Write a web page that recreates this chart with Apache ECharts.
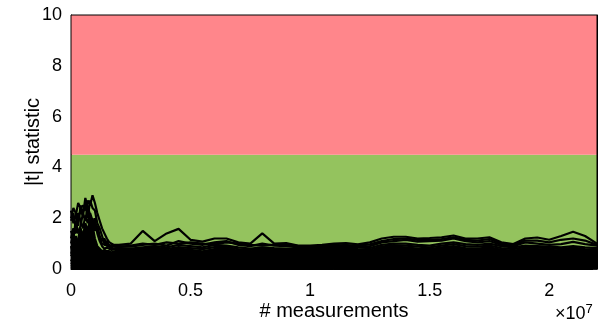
<!DOCTYPE html>
<html lang="en">
<head>
    <meta charset="UTF-8">
    <title>t statistic</title>
    <script type="text/javascript" src="https://cdn.jsdelivr.net/npm/echarts@6/dist/echarts.min.js"></script>
</head>
<body style="margin:0;background:#fff;">
    <div id="main" style="width: 610px;height:326px;"></div>
    <script type="text/javascript">
    // x positions in units of 1e7 measurements
    let xs = [0, 0.01, 0.02, 0.03, 0.04, 0.05, 0.06, 0.07, 0.08, 0.09, 0.1, 0.11, 0.12, 0.13, 0.14, 0.15, 0.16, 0.17, 0.18,
        0.2, 0.25, 0.3, 0.35, 0.4, 0.45, 0.5, 0.55, 0.6, 0.65, 0.7, 0.75, 0.8, 0.85, 0.9, 0.95, 1.0, 1.05, 1.1, 1.15,
        1.2, 1.25, 1.3, 1.35, 1.4, 1.45, 1.5, 1.55, 1.6, 1.65, 1.7, 1.75, 1.8, 1.85, 1.9, 1.95, 2.0, 2.05, 2.1, 2.15, 2.2];

    // |t| traces (early part, then the long tail)
    let t1 = [2.3, 1.8, 2.1, 2.6, 2.4, 2.5, 2.3, 2.7, 2.5, 2.9, 2.6, 2.2, 1.9, 1.6, 1.4, 1.2, 1.05, 1.0, 0.95,
        0.95, 1.0, 1.5, 1.1, 1.4, 1.58, 1.15, 1.08, 1.2, 1.2, 1.05, 1.0, 1.4, 1.0, 1.02, 0.92, 0.92, 0.95, 1.0, 1.02,
        0.97, 1.05, 1.2, 1.27, 1.27, 1.2, 1.22, 1.25, 1.32, 1.2, 1.2, 1.25, 1.05, 0.98, 1.2, 1.24, 1.15, 1.3, 1.47, 1.3, 1.0];
    let t2 = [1.9, 2.2, 1.6, 2.0, 2.3, 2.1, 2.8, 2.4, 1.8, 2.0, 1.5, 1.7, 1.3, 1.1, 1.2, 0.9, 0.95, 0.85, 0.9,
        0.9, 0.88, 0.95, 1.0, 0.92, 1.1, 1.0, 0.95, 1.05, 1.1, 0.95, 0.9, 1.0, 0.92, 0.9, 0.85, 0.88, 0.85, 0.9, 0.95,
        0.88, 0.9, 1.05, 1.1, 1.15, 1.08, 1.1, 1.12, 1.2, 1.1, 1.05, 1.1, 0.95, 0.9, 1.05, 1.0, 0.95, 0.98, 1.07, 0.98, 0.92];
    let t3 = [1.5, 1.2, 1.9, 1.4, 1.7, 2.2, 1.9, 2.5, 2.1, 1.6, 2.0, 1.4, 1.1, 0.9, 0.8, 0.85, 0.8, 0.75, 0.8,
        0.82, 0.8, 0.85, 0.9, 0.85, 0.95, 0.9, 0.85, 0.95, 0.92, 0.85, 0.8, 0.85, 0.82, 0.8, 0.78, 0.8, 0.82, 0.85, 0.88,
        0.85, 0.82, 0.95, 1.0, 1.0, 0.95, 0.92, 1.0, 1.05, 0.98, 0.95, 1.0, 0.9, 0.85, 0.92, 0.9, 0.88, 0.85, 0.9, 0.85, 0.82];
    let t4 = [1.0, 1.4, 0.8, 1.2, 1.6, 1.3, 1.8, 1.5, 2.0, 1.7, 1.2, 0.9, 0.8, 0.7, 0.75, 0.7, 0.7, 0.65, 0.7,
        0.72, 0.7, 0.75, 0.78, 0.72, 0.8, 0.75, 0.7, 0.78, 0.8, 0.72, 0.7, 0.75, 0.72, 0.7, 0.68, 0.7, 0.72, 0.75, 0.78,
        0.72, 0.7, 0.82, 0.88, 0.85, 0.8, 0.78, 0.85, 0.9, 0.82, 0.8, 0.85, 0.75, 0.72, 0.8, 0.78, 0.75, 0.72, 0.78, 0.72, 0.7];
    let t5 = [0.6, 0.9, 1.3, 0.7, 1.1, 0.8, 1.4, 1.1, 1.6, 1.3, 0.8, 0.6, 0.7, 0.6, 0.62, 0.6, 0.58, 0.6, 0.62,
        0.6, 0.62, 0.65, 0.68, 0.62, 0.7, 0.65, 0.62, 0.68, 0.7, 0.62, 0.6, 0.65, 0.62, 0.6, 0.58, 0.62, 0.6, 0.65, 0.68,
        0.6, 0.58, 0.7, 0.75, 0.72, 0.68, 0.65, 0.72, 0.78, 0.7, 0.68, 0.72, 0.65, 0.62, 0.68, 0.66, 0.62, 0.6, 0.65, 0.62, 0.6];
    let t6 = [0.3, 0.5, 0.9, 1.1, 0.6, 1.0, 0.7, 1.2, 0.9, 0.5, 0.7, 0.5, 0.55, 0.5, 0.52, 0.5, 0.48, 0.5, 0.52,
        0.5, 0.52, 0.55, 0.56, 0.52, 0.58, 0.55, 0.5, 0.55, 0.58, 0.52, 0.5, 0.54, 0.52, 0.5, 0.48, 0.5, 0.52, 0.55, 0.56,
        0.5, 0.48, 0.58, 0.62, 0.6, 0.55, 0.52, 0.6, 0.65, 0.58, 0.55, 0.6, 0.55, 0.52, 0.56, 0.55, 0.52, 0.5, 0.55, 0.5, 0.48];
    let t7 = [0.9, 0.4, 0.6, 0.3, 0.8, 0.5, 0.9, 0.6, 0.4, 0.8, 0.4, 0.42, 0.4, 0.45, 0.42, 0.4, 0.38, 0.42, 0.4,
        0.4, 0.42, 0.45, 0.44, 0.42, 0.46, 0.44, 0.4, 0.44, 0.46, 0.42, 0.4, 0.43, 0.42, 0.4, 0.38, 0.4, 0.42, 0.44, 0.45,
        0.4, 0.38, 0.45, 0.5, 0.48, 0.44, 0.42, 0.48, 0.52, 0.46, 0.44, 0.48, 0.44, 0.42, 0.45, 0.44, 0.42, 0.4, 0.44, 0.4, 0.38];
    let t8 = [0.5, 0.7, 0.2, 0.5, 0.3, 0.6, 0.2, 0.4, 0.7, 0.3, 0.5, 0.3, 0.32, 0.3, 0.34, 0.3, 0.28, 0.32, 0.3,
        0.3, 0.32, 0.34, 0.33, 0.3, 0.35, 0.33, 0.3, 0.34, 0.36, 0.32, 0.3, 0.33, 0.32, 0.3, 0.28, 0.3, 0.32, 0.34, 0.35,
        0.3, 0.28, 0.34, 0.38, 0.36, 0.33, 0.32, 0.36, 0.4, 0.35, 0.33, 0.36, 0.33, 0.32, 0.34, 0.33, 0.32, 0.3, 0.33, 0.3, 0.28];
    let t9 = [0.2, 0.3, 0.5, 0.15, 0.4, 0.2, 0.35, 0.1, 0.3, 0.5, 0.2, 0.22, 0.2, 0.24, 0.22, 0.2, 0.18, 0.22, 0.2,
        0.2, 0.22, 0.24, 0.23, 0.2, 0.25, 0.22, 0.2, 0.24, 0.25, 0.22, 0.2, 0.22, 0.21, 0.2, 0.18, 0.2, 0.22, 0.24, 0.25,
        0.2, 0.18, 0.24, 0.27, 0.25, 0.22, 0.21, 0.25, 0.28, 0.24, 0.22, 0.25, 0.22, 0.2, 0.23, 0.22, 0.21, 0.2, 0.22, 0.2, 0.18];
    let t10 = [0.1, 0.15, 0.05, 0.25, 0.1, 0.3, 0.12, 0.2, 0.08, 0.15, 0.1, 0.12, 0.1, 0.13, 0.12, 0.1, 0.09, 0.12, 0.1,
        0.1, 0.12, 0.13, 0.12, 0.1, 0.14, 0.12, 0.1, 0.13, 0.14, 0.12, 0.1, 0.12, 0.11, 0.1, 0.09, 0.1, 0.12, 0.13, 0.14,
        0.1, 0.09, 0.13, 0.15, 0.14, 0.12, 0.11, 0.14, 0.16, 0.13, 0.12, 0.14, 0.12, 0.1, 0.12, 0.12, 0.11, 0.1, 0.12, 0.1, 0.09];
    let t11 = [0.02, 0.05, 0.03, 0.06, 0.02, 0.04, 0.05, 0.03, 0.02, 0.04, 0.03, 0.04, 0.03, 0.04, 0.03, 0.03, 0.02, 0.03, 0.03,
        0.03, 0.04, 0.04, 0.03, 0.03, 0.04, 0.04, 0.03, 0.04, 0.04, 0.03, 0.03, 0.04, 0.03, 0.03, 0.02, 0.03, 0.03, 0.04, 0.04,
        0.03, 0.03, 0.04, 0.05, 0.04, 0.04, 0.03, 0.04, 0.05, 0.04, 0.04, 0.04, 0.03, 0.03, 0.04, 0.04, 0.03, 0.03, 0.04, 0.03, 0.03];
    let t12 = [2.0, 2.4, 2.2, 1.7, 2.5, 2.2, 2.6, 2.0, 2.7, 2.4, 2.3, 1.8, 1.6, 1.3, 1.0, 1.1, 0.9, 0.95, 0.88,
        0.86, 0.92, 1.0, 0.95, 1.05, 1.0, 1.05, 1.0, 0.98, 1.05, 1.0, 0.95, 0.92, 0.96, 0.95, 0.9, 0.86, 0.9, 0.95, 0.92,
        0.92, 0.97, 1.1, 1.18, 1.2, 1.15, 1.15, 1.18, 1.25, 1.15, 1.12, 1.18, 1.0, 0.95, 1.12, 1.12, 1.05, 1.15, 1.2, 1.12, 0.95];
    let t13 = [1.2, 1.6, 1.4, 2.2, 1.9, 1.6, 2.1, 1.8, 2.2, 1.9, 1.7, 1.6, 1.2, 1.0, 0.95, 0.95, 0.88, 0.8, 0.78,
        0.76, 0.75, 0.8, 0.84, 0.78, 0.86, 0.82, 0.78, 0.86, 0.86, 0.78, 0.75, 0.8, 0.77, 0.75, 0.72, 0.75, 0.77, 0.8, 0.82,
        0.78, 0.76, 0.88, 0.94, 0.92, 0.88, 0.85, 0.92, 0.98, 0.9, 0.88, 0.92, 0.82, 0.78, 0.86, 0.84, 0.82, 0.78, 0.84, 0.78, 0.76];
    let traces = [t1, t2, t3, t4, t5, t6, t7, t8, t9, t10, t11, t12, t13];

    let threshold = 4.5;
    let yMax = 10;
    let yTicks = [0, 2, 4, 6, 8, 10];
    let xTicks = [0, 0.5, 1, 1.5, 2];

    let myChart = echarts.init(document.getElementById('main'));
    let font = '"Liberation Sans", Arial, Helvetica, sans-serif';

    let series = [{
        name: 'bands',
        type: 'line',
        z: 1,
        data: [[0, 0]],
        symbol: 'none',
        lineStyle: { width: 0 },
        silent: true,
        markArea: {
            silent: true,
            data: [
                [{ yAxis: 0, itemStyle: { color: '#94C35E' } }, { yAxis: threshold }],
                [{ yAxis: threshold, itemStyle: { color: '#FF868B' } }, { yAxis: yMax }]
            ]
        }
    }];
    traces.forEach(function(t, k) {
        let s = {
            name: 't' + (k + 1),
            type: 'line',
            z: 3,
            data: xs.map(function(x, i) { return [x, t[i]]; }),
            showSymbol: false,
            symbol: 'none',
            lineStyle: { color: '#000', width: 2.2 }
        };
        // the traces overlap so densely low down that it reads as solid black
        if (t === t4) s.areaStyle = { color: '#000', opacity: 1 };
        series.push(s);
    });

    option = {
        animation: false,
        grid: {
            left: 71, right: 13, top: 15, bottom: 52,
            show: true, borderColor: '#000', borderWidth: 1, backgroundColor: 'transparent', z: 5
        },
        xAxis: {
            type: 'value',
            min: 0, max: 2.2, interval: 0.5,
            name: '# measurements',
            nameLocation: 'middle',
            nameGap: 32,
            nameMoveOverlap: false,
            nameTextStyle: { fontFamily: font, fontSize: 20, color: '#000' },
            axisLine: { lineStyle: { color: '#000' } },
            axisTick: { inside: true, length: 4, lineStyle: { color: '#000' } },
            axisLabel: {
                fontFamily: font, fontSize: 18, color: '#000', margin: 13, showMaxLabel: false,
                formatter: function(v) { return xTicks.indexOf(v) >= 0 ? String(v) : ''; }
            },
            splitLine: { show: false }
        },
        yAxis: [{
            type: 'value',
            min: 0, max: yMax, interval: 2,
            name: '|t| statistic',
            nameLocation: 'middle',
            nameGap: 28,
            nameMoveOverlap: false,
            nameTextStyle: { fontFamily: font, fontSize: 20, color: '#000' },
            axisLine: { show: true, lineStyle: { color: '#000' } },
            axisTick: { show: true, inside: true, length: 4, lineStyle: { color: '#000' } },
            axisLabel: {
                fontFamily: font, fontSize: 18, color: '#000', margin: 9,
                padding: [5, 0, 0, 0],
                verticalAlignMinLabel: 'middle', verticalAlignMaxLabel: 'middle',
                formatter: function(v) { return yTicks.indexOf(v) >= 0 ? String(v) : ''; }
            },
            splitLine: { show: false }
        }, {
            type: 'value',
            position: 'right',
            min: 0, max: yMax, interval: 2,
            axisLine: { show: true, lineStyle: { color: '#000' } },
            axisTick: { show: true, inside: true, length: 4, lineStyle: { color: '#555' } },
            axisLabel: { show: false },
            splitLine: { show: false }
        }],
        graphic: [{
            type: 'text',
            left: 555,
            top: 303,
            style: {
                text: '×10{s|7}',
                font: '18px ' + font,
                fill: '#000',
                rich: {
                    s: { fontSize: 13, fontFamily: font, verticalAlign: 'top', padding: [0, 0, 10, 0] }
                }
            }
        }],
        series: series
    };

    myChart.setOption(option);
    </script>
</body>
</html>
